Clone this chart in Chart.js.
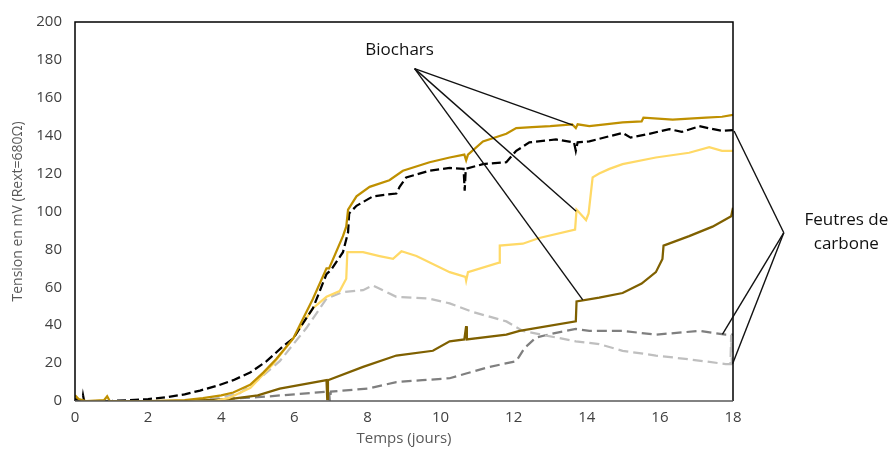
<!DOCTYPE html>
<html>
<head>
<meta charset="utf-8">
<script src="https://cdn.jsdelivr.net/npm/chart.js@4.4.1/dist/chart.umd.min.js"></script>
<style>
  html, body { margin: 0; padding: 0; background: #fff; }
  #wrap { width: 895px; height: 450px; }
</style>
</head>
<body>
<div id="wrap"><canvas id="chart" width="895" height="450"></canvas></div>
<script>
// Tension (mV) vs temps (jours) — biochars (solid) and carbon felts (dashed)
const xTicks = [0, 2, 4, 6, 8, 10, 12, 14, 16, 18];
const yTicks = [0, 20, 40, 60, 80, 100, 120, 140, 160, 180, 200];

const goldDays = [0, 0.1, 0.3, 0.8, 0.88, 0.95, 2, 3, 3.5, 4, 4.33, 4.79, 5.15, 5.5, 5.97, 6.2, 6.51, 6.88, 6.95, 7.33, 7.42, 7.47, 7.7, 8.06, 8.6, 8.97, 9.7, 10.25, 10.65, 10.7, 10.75, 11.16, 11.8, 12.07, 12.5, 13, 13.6, 13.7, 13.75, 14.07, 14.5, 14.98, 15.5, 15.55, 16.35, 16.8, 17.26, 17.7, 18];
const goldVals = [3, 1, 0, 0.5, 2.5, 0, 0, 0.5, 1.5, 3, 4.5, 8.5, 15, 22, 33, 42, 54, 70, 70, 87, 92, 101, 108, 113, 116.5, 121.5, 126, 128.5, 130, 127, 130, 137, 141, 144, 144.5, 145, 146, 144, 146, 145, 146, 147, 147.5, 149.5, 148.5, 149, 149.5, 150, 151];

const blackDays = [0, 0.2, 0.22, 0.25, 1, 2, 2.5, 3, 3.42, 3.88, 4.33, 4.79, 5.24, 5.7, 5.97, 6.2, 6.51, 6.88, 7.0, 7.33, 7.47, 7.5, 7.7, 8.15, 8.79, 8.88, 9.06, 9.7, 10.25, 10.63, 10.66, 10.69, 11.16, 11.8, 12.07, 12.43, 13.16, 13.65, 13.7, 13.75, 14.07, 14.98, 15.2, 15.71, 16.26, 16.6, 17.08, 17.71, 18];
const blackVals = [1, 0, 3, 0, 0, 1, 2, 3.5, 5.5, 8, 11, 15, 21, 29, 33, 40, 49, 67, 69, 78.5, 89, 99, 103, 108, 109.5, 113, 118, 121.5, 123, 122.5, 111, 122.5, 125, 126, 132, 136.5, 138, 136.5, 132, 136.5, 137, 141.5, 139, 141, 143.5, 142, 145, 142.5, 143];

const yellowDays = [0, 0.1, 3.8, 4.2, 4.8, 5.42, 5.97, 6.51, 6.88, 7.24, 7.42, 7.45, 7.88, 8.33, 8.7, 8.93, 9.34, 10.25, 10.68, 10.7, 10.75, 11.6, 11.62, 12.25, 12.7, 13.68, 13.72, 13.98, 14.05, 14.16, 14.34, 14.62, 14.98, 15.89, 16.8, 17.35, 17.7, 18];
const yellowVals = [3, 0, 0, 1.5, 7, 19.5, 33, 49, 55, 58, 64.5, 78.5, 78.5, 76.5, 75, 79, 76.5, 68, 65.5, 63.5, 68, 73, 82, 83, 86, 90.5, 101, 95.5, 99, 118, 120, 122.5, 125, 128.5, 131, 134, 132, 132];

const oliveDays = [0, 3, 4.23, 5, 5.6, 6.88, 6.9, 6.92, 7.88, 8.79, 9.79, 10.25, 10.65, 10.7, 10.72, 11.8, 12.16, 13.7, 13.72, 14.34, 14.98, 15.5, 15.89, 16.07, 16.1, 16.8, 17.44, 17.95, 18];
const oliveVals = [0, 0, 1, 3, 6.5, 11, 1, 11, 18, 24, 26.5, 31.5, 32.5, 39.5, 32.5, 35, 37, 42, 52.5, 54.5, 57, 62, 68, 75, 82, 87, 92, 97.5, 102];

const lightGrayDays = [0, 3.5, 4.5, 5, 5.6, 6.33, 6.88, 7.33, 7.88, 8.15, 8.79, 9.7, 10.25, 10.88, 11.8, 12.25, 13.16, 13.7, 14.34, 14.98, 15.89, 16.8, 17.8, 17.93, 17.95, 17.97, 18];
const lightGrayVals = [0, 0, 4, 11, 21, 38.5, 54, 57.5, 58.5, 61, 55, 54, 51.5, 47, 42, 37, 33.5, 31.5, 30, 26.5, 24, 22, 19.5, 19.5, 35, 19.5, 19.5];

const darkGrayDays = [0, 3, 4, 5, 6, 6.95, 6.97, 7.0, 8, 8.79, 9.5, 10.25, 10.7, 11.34, 12.07, 12.3, 12.61, 13.16, 13.7, 14.07, 14.98, 15.89, 17.08, 17.8, 18];
const darkGrayVals = [0, 0, 1, 2, 3.5, 5, 0, 5, 6.5, 10, 11, 12, 14.5, 18, 21, 28, 33.5, 36, 38, 37, 37, 35, 37, 35, 35];

// annotation leader lines, in data units: [fromDay, fromVal, toDay, toVal]
const biocharLeaders = [[9.29, 175.4, 13.62, 145.6], [9.29, 175.4, 13.71, 100.1], [9.29, 175.4, 13.89, 53.4]];
const feltLeaders = [[19.39, 88.8, 18.03, 142.5], [19.39, 88.8, 17.71, 35.2], [19.39, 88.8, 17.99, 19.6]];

const FONT = "'Open Sans'";

function pts(days, vals) {
  return days.map((d, i) => ({ x: d, y: vals[i] }));
}

function series(label, days, vals, color, dash) {
  return {
    label,
    data: pts(days, vals),
    borderColor: color,
    backgroundColor: color,
    borderWidth: 2.25,
    borderDash: dash || [],
    pointRadius: 0,
    tension: 0,
    fill: false,
  };
}

const framePlugin = {
  id: "frame",
  afterDatasetsDraw(chart) {
    const { ctx, chartArea: a, scales: { x, y } } = chart;
    ctx.save();
    ctx.lineWidth = 1.5;
    ctx.strokeStyle = "#000";
    ctx.beginPath();
    ctx.moveTo(a.left, a.bottom);
    ctx.lineTo(a.left, a.top);
    ctx.lineTo(a.right, a.top);
    ctx.lineTo(a.right, a.bottom);
    ctx.stroke();
    ctx.strokeStyle = "#595959";
    ctx.beginPath();
    ctx.moveTo(a.left, a.bottom);
    ctx.lineTo(a.right, a.bottom);
    ctx.stroke();

    ctx.strokeStyle = "#111";
    ctx.lineWidth = 1.4;
    biocharLeaders.concat(feltLeaders).forEach(([x0, y0, x1, y1]) => {
      ctx.beginPath();
      ctx.moveTo(x.getPixelForValue(x0), y.getPixelForValue(y0));
      ctx.lineTo(x.getPixelForValue(x1), y.getPixelForValue(y1));
      ctx.stroke();
    });

    ctx.fillStyle = "#111";
    ctx.font = "17px " + FONT;
    ctx.textAlign = "center";
    ctx.textBaseline = "middle";
    ctx.fillText("Biochars", x.getPixelForValue(8.88), y.getPixelForValue(185));
    ctx.fillText("Feutres de", x.getPixelForValue(21.1), y.getPixelForValue(95.6));
    ctx.fillText("carbone", x.getPixelForValue(21.1), y.getPixelForValue(82.6));
    ctx.restore();
  },
};

new Chart(document.getElementById("chart"), {
  type: "line",
  data: {
    datasets: [
      series("Biochar 1", goldDays, goldVals, "#BF9000"),
      series("Feutre 1", blackDays, blackVals, "#000000", [9, 4]),
      series("Biochar 2", yellowDays, yellowVals, "#FFD966"),
      series("Biochar 3", oliveDays, oliveVals, "#7F6000"),
      series("Feutre 2", lightGrayDays, lightGrayVals, "#BFBFBF", [10, 5]),
      series("Feutre 3", darkGrayDays, darkGrayVals, "#7F7F7F", [10, 5]),
    ],
  },
  options: {
    responsive: false,
    animation: false,
    layout: { padding: { top: 15, right: 162, left: 0, bottom: 0 } },
    plugins: {
      legend: { display: false },
      tooltip: { enabled: false },
    },
    scales: {
      x: {
        type: "linear",
        min: 0,
        max: 18,
        afterBuildTicks(scale) {
          scale.ticks = xTicks.map((v) => ({ value: v }));
        },
        afterFit(scale) {
          scale.height = 49;
        },
        grid: { display: false, drawTicks: false },
        border: { display: false },
        ticks: { color: "#404040", font: { family: FONT, size: 15 }, padding: 8, maxRotation: 0 },
        title: {
          display: true,
          text: "Temps (jours)",
          color: "#595959",
          font: { family: FONT, size: 15 },
          padding: { top: 0, bottom: 2 },
        },
      },
      y: {
        min: 0,
        max: 200,
        afterBuildTicks(scale) {
          scale.ticks = yTicks.map((v) => ({ value: v }));
        },
        afterFit(scale) {
          scale.width = 75;
        },
        grid: { display: false, drawTicks: false },
        border: { display: false },
        ticks: { color: "#404040", font: { family: FONT, size: 15 }, padding: 13 },
        title: {
          display: true,
          text: "Tension en mV (Rext=680Ω)",
          color: "#595959",
          font: { family: FONT, size: 14 },
          padding: { top: 10, bottom: 0 },
        },
      },
    },
  },
  plugins: [framePlugin],
});
</script>
</body>
</html>
